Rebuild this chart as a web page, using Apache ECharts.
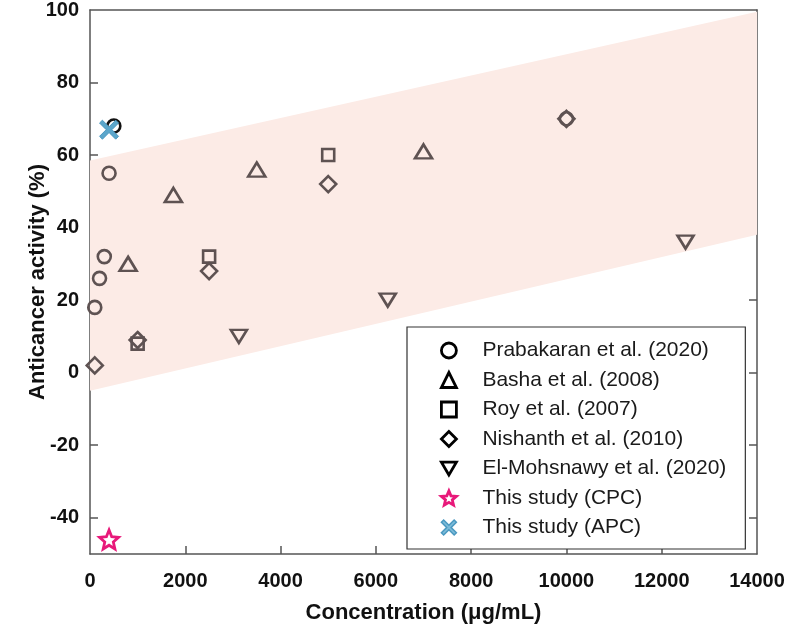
<!DOCTYPE html>
<html>
<head>
<meta charset="utf-8">
<script src="https://cdn.jsdelivr.net/npm/echarts@6/dist/echarts.min.js"></script>
<style>
html,body{margin:0;padding:0;background:#fff;}
#chart{width:787px;height:641px;}
</style>
</head>
<body>
<div id="chart"></div>
<script>
// ---- data ----
const prabakaran = [[100, 18], [200, 26], [300, 32], [400, 55], [500, 68], [10000, 70]];
const basha = [[800, 30], [1750, 49], [3500, 56], [7000, 61]];
const roy = [[1000, 8], [2500, 32], [5000, 60]];
const nishanth = [[100, 2], [1000, 9], [2500, 28], [5000, 52], [10000, 70]];
const elMohsnawy = [[3125, 10], [6250, 20], [12500, 36]];
const thisCPC = [[400, -46]];
const thisAPC = [[400, 67]];
const bandX = [0, 14000];
const bandLower = [-5, 38];
const bandUpper = [58.5, 99.5];
const xTicks = [0, 2000, 4000, 6000, 8000, 10000, 12000, 14000];
const xTickMarks = [2000, 4000, 6000, 8000, 10000, 12000];
const yTicks = [-40, -20, 0, 20, 40, 60, 80, 100];
const yTickMarks = [-40, -20, 0, 20, 40, 60, 80];

const seriesNames = ['Prabakaran et al. (2020)', 'Basha et al. (2008)', 'Roy et al. (2007)',
  'Nishanth et al. (2010)', 'El-Mohsnawy et al. (2020)', 'This study (CPC)', 'This study (APC)'];

const GRAY = '#5e5252';
const FONT = '"Liberation Sans", Arial, sans-serif';
const DOWN_TRI = 'path://M0,0 L100,0 L50,85 Z';
const STAR = 'path://M100,0 L126.5,63.6 L195.1,69.1 L142.8,113.9 L158.8,180.9 L100,145 L41.2,180.9 L57.2,113.9 L4.9,69.1 L73.5,63.6 Z';
const CROSS = 'path://M0,15 L15,0 L50,35 L85,0 L100,15 L65,50 L100,85 L85,100 L50,65 L15,100 L0,85 L35,50 Z';

function hollow(color, w) {
  return { color: 'rgba(0,0,0,0)', borderColor: color, borderWidth: w, opacity: 1 };
}

const chart = echarts.init(document.getElementById('chart'), null, { renderer: 'canvas' });

const axisLineStyle = { color: '#555', width: 1.5 };

const option = {
  animation: false,
  backgroundColor: '#ffffff',
  grid: { left: 90, right: 30, top: 10, bottom: 87, outerBoundsMode: 'none', containLabel: false },
  xAxis: [{
    type: 'value', min: 0, max: 14000, interval: 2000,
    name: 'Concentration (\u03bcg/mL)', nameLocation: 'middle', nameGap: 48,
    nameTextStyle: { fontFamily: FONT, fontSize: 22, fontWeight: 'bold', color: '#111' },
    axisLine: { show: true, onZero: false, lineStyle: axisLineStyle },
    axisTick: { show: true, inside: true, length: 8, lineStyle: axisLineStyle, customValues: xTickMarks },
    axisLabel: { margin: 17, fontFamily: FONT, fontSize: 20, fontWeight: 'bold', color: '#111',
      customValues: xTicks, showMinLabel: true, showMaxLabel: true, formatter: v => String(v) },
    splitLine: { show: false }
  }, {
    type: 'value', position: 'top', min: 0, max: 14000,
    axisLine: { show: true, onZero: false, lineStyle: axisLineStyle },
    axisTick: { show: false }, axisLabel: { show: false }, splitLine: { show: false }
  }],
  yAxis: [{
    type: 'value', min: -50, max: 100, interval: 10,
    name: 'Anticancer activity (%)', nameLocation: 'middle', nameGap: 41, nameRotate: 90,
    nameMoveOverlap: false,
    nameTextStyle: { fontFamily: FONT, fontSize: 22, fontWeight: 'bold', color: '#111' },
    axisLine: { show: true, onZero: false, lineStyle: axisLineStyle },
    axisTick: { show: true, inside: true, length: 8, lineStyle: axisLineStyle, customValues: yTickMarks },
    axisLabel: { margin: 11, fontFamily: FONT, fontSize: 20, fontWeight: 'bold', color: '#111',
      customValues: yTicks, formatter: v => String(v) },
    splitLine: { show: false }
  }, {
    type: 'value', position: 'right', min: -50, max: 100, interval: 10,
    axisLine: { show: true, onZero: false, lineStyle: axisLineStyle },
    axisTick: { show: true, inside: true, length: 8, lineStyle: axisLineStyle, customValues: yTickMarks },
    axisLabel: { show: false }, splitLine: { show: false }
  }],
  legend: {
    orient: 'vertical', left: 407, top: 327,
    padding: [13, 19, 11, 33],
    itemGap: 8.5, itemWidth: 15, itemHeight: 15,
    borderColor: '#333', borderWidth: 1.2, backgroundColor: '#fff',
    textStyle: { fontFamily: FONT, fontSize: 21, color: '#1a1a1a', lineHeight: 20, padding: [0, 0, 0, 21] },
    data: [
      { name: seriesNames[0], itemStyle: hollow('#000', 2.8) },
      { name: seriesNames[1], itemStyle: hollow('#000', 2.8) },
      { name: seriesNames[2], itemStyle: hollow('#000', 2.8) },
      { name: seriesNames[3], itemStyle: hollow('#000', 2.8) },
      { name: seriesNames[4], itemStyle: hollow('#000', 2.8) },
      { name: seriesNames[5], itemStyle: hollow('#e8197a', 2.8) },
      { name: seriesNames[6], itemStyle: { color: '#7bbbd8', borderColor: '#4a98c0', borderWidth: 1.5 } }
    ]
  },
  series: [
    {
      type: 'custom', name: 'band', silent: true, z: 1, clip: true,
      data: [0],
      renderItem: function (params, api) {
        const pts = [
          api.coord([bandX[0], bandLower[0]]),
          api.coord([bandX[1], bandLower[1]]),
          api.coord([bandX[1], bandUpper[1]]),
          api.coord([bandX[0], bandUpper[0]])
        ];
        return { type: 'polygon', shape: { points: pts }, style: { fill: '#fcebe6', stroke: 'none' } };
      }
    },
    {
      type: 'scatter', name: seriesNames[0], symbol: 'circle', symbolSize: 13, z: 3,
      itemStyle: hollow(GRAY, 2.6),
      data: prabakaran.map((p, i) => i === 4 ? { value: p, itemStyle: hollow('#111', 2.6) } : p)
    },
    {
      type: 'scatter', name: seriesNames[1], symbol: 'triangle', symbolSize: [17, 14], z: 3,
      itemStyle: hollow(GRAY, 2.6), data: basha
    },
    {
      type: 'scatter', name: seriesNames[2], symbol: 'rect', symbolSize: 12, z: 3,
      itemStyle: hollow(GRAY, 2.6), data: roy
    },
    {
      type: 'scatter', name: seriesNames[3], symbol: 'diamond', symbolSize: [16, 16], z: 3,
      itemStyle: hollow(GRAY, 2.6), data: nishanth
    },
    {
      type: 'scatter', name: seriesNames[4], symbol: DOWN_TRI, symbolSize: [16, 13], z: 3,
      itemStyle: hollow(GRAY, 2.6), data: elMohsnawy
    },
    {
      type: 'scatter', name: seriesNames[5], symbol: STAR, symbolSize: 19, z: 4,
      itemStyle: hollow('#e8197a', 2.8), data: thisCPC
    },
    {
      type: 'scatter', name: seriesNames[6], symbol: CROSS, symbolSize: 19, z: 5,
      itemStyle: { color: '#5ba6cb', borderColor: '#4a98c0', borderWidth: 1, opacity: 1 }, data: thisAPC
    }
  ]
};
chart.setOption(option);
</script>
</body>
</html>
